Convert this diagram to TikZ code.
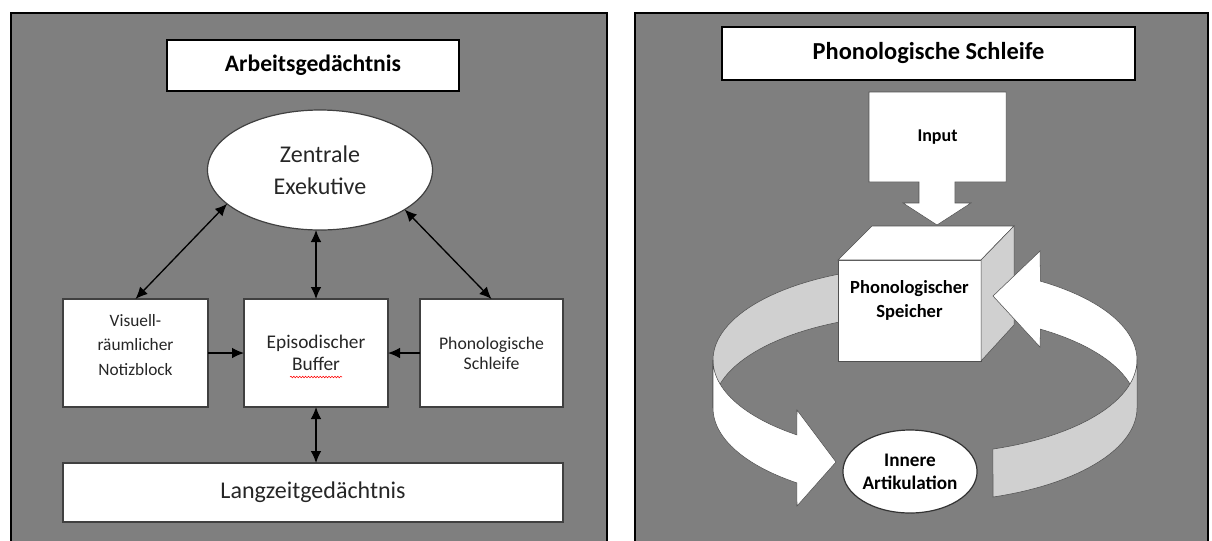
\documentclass[tikz,border=0pt]{standalone}
\usepackage{fontspec}
\setmainfont{Carlito}
\usetikzlibrary{arrows.meta,positioning,shapes.geometric,decorations.pathmorphing}
\tikzset{every picture/.style={
  >={Latex[length=9pt,width=8pt]}   % Filled arrow heads.
  }
}
\definecolor{panelgray}{RGB}{127,127,127}
\definecolor{ribbongray}{RGB}{208,208,208}
\definecolor{edgegray}{RGB}{80,80,80}

\begin{document}
\begin{tikzpicture}[
    x=0.75pt, y=-0.75pt,
    panel/.style={draw=black,line width=2.2pt,fill=panelgray},
    title/.style={
      draw=black,
      line width=0.9pt,
      fill=white,
      outer sep=0pt,
      font=\bfseries\fontsize{17.7}{20}\selectfont
    },
    box/.style={
      draw=black!75,
      line width=0.9pt,
      fill=white,
      outer sep=0pt,
      align=center,
      text=black!85
    },
    link/.style={<->,line width=1pt},
    band/.style={draw=edgegray,line width=0.4pt}
  ]
  \clip (0,0) rectangle (1212,540);

  % The two gray panels.
  \draw[panel] (11,13) rectangle (607,560);
  \draw[panel] (635,13) rectangle (1208,560);

  % Left panel: the working memory model.
  \node[title,minimum width=219pt,minimum height=38.25pt] (ag) at (313,65.5)
    {Arbeitsgedächtnis};
  \node[box,ellipse,minimum width=168.75pt,minimum height=90pt,
    font=\fontsize{18}{24}\selectfont] (ze) at (320,170) {Zentrale\\Exekutive};

  \node[box,minimum width=108pt,minimum height=81pt,
    font=\fontsize{14.5}{17}\selectfont] (eb) at (316,353) {Episodischer\\Buffer};
  \node[box,minimum width=108.75pt,minimum height=81pt,left=27pt of eb,
    label={[align=center,yshift=6pt,text=black!85,
      font=\fontsize{13}{18.4}\selectfont]center:Visuell-\\räumlicher\\Notizblock}]
    (vr) {};
  \node[box,minimum width=107.25pt,minimum height=81pt,right=24pt of eb,
    font=\fontsize{13.3}{15}\selectfont] (ps) {Phonologische\\Schleife};
  \node[box,minimum width=375pt,minimum height=44.25pt,
    font=\fontsize{18}{20}\selectfont] (lz) at (313,492.5) {Langzeitgedächtnis};

  % Spell check mark under the buffer label.
  \draw[red,line width=0.4pt,decorate,
    decoration={snake,amplitude=0.6pt,segment length=2.2pt}]
    ([shift={(-26,24)}]eb.center) -- ([shift={(26,24)}]eb.center);

  % Links between the parts.
  \draw[link] (vr.north) -- (ze.200);
  \draw[link] (eb.north) -- (eb.north |- ze.south);
  \draw[link] (ps.north) -- (ze.-25);
  \draw[->,line width=1pt] (vr) -- (eb);
  \draw[->,line width=1pt] (ps) -- (eb);
  \draw[link] (eb.south) -- (eb.south |- lz.north);

  % Right panel: the phonological loop.
  \node[title,minimum width=309.75pt,minimum height=39.75pt,
    font=\bfseries\fontsize{18.3}{21}\selectfont] (pl) at (928.5,53.5)
    {Phonologische Schleife};

  % Input arrow box.
  \filldraw[band,fill=white] (869,92) -- (1006,92) -- (1006,182) -- (955,182)
    -- (955,203) -- (971,203) -- (937,225) -- (903,203) -- (919,203)
    -- (919,182) -- (869,182) -- cycle;
  \node[font=\bfseries\fontsize{13.5}{15}\selectfont] (inp) at (937.5,137) {Input};

  % Back of the left ribbon.
  \filldraw[band,fill=ribbongray]
    plot[domain=110:180,samples=30] ({925+212*cos(\x)},{360-94*sin(\x)})
    -- plot[domain=180:110,samples=30] ({925+212*cos(\x)},{408-94*sin(\x)})
    -- cycle;

  % The store as a cube.
  \node[box,draw=edgegray,line width=0.6pt,minimum width=107.25pt,
    minimum height=75.75pt,
    label={[align=center,yshift=7.5pt,text=black,
      font=\bfseries\fontsize{13.9}{18}\selectfont]center:Phonologischer\\Speicher}]
    (sp) at (909.5,310.5) {};
  \filldraw[band,fill=white] (sp.north west) -- ++(34,-34)
    -- ([shift={(33,-34)}]sp.north east) -- (sp.north east) -- cycle;
  \filldraw[band,fill=ribbongray] (sp.north east) -- ++(33,-34) -- ++(0,99)
    -- (sp.south east) -- cycle;

  % Back of the right ribbon, with its head.
  \filldraw[band,fill=white]
    plot[domain=0:57,samples=30] ({925+212*cos(\x)},{360-94*sin(\x)})
    -- (1040,251) -- (993,296) -- (1040,347)
    -- plot[domain=57:0,samples=30] ({925+212*cos(\x)},{408-94*sin(\x)})
    -- cycle;

  % Front of the right ribbon.
  \filldraw[band,fill=ribbongray]
    plot[domain=-71.3:0,samples=30] ({925+212*cos(\x)},{360-94*sin(\x)})
    -- plot[domain=0:-71.3,samples=30] ({925+212*cos(\x)},{408-94*sin(\x)})
    -- cycle;

  % Front of the left ribbon, with its head.
  \filldraw[band,fill=white]
    plot[domain=180:232.8,samples=30] ({925+212*cos(\x)},{360-94*sin(\x)})
    -- (797,410) -- (836,462) -- (797,506)
    -- plot[domain=232.8:180,samples=30] ({925+212*cos(\x)},{408-94*sin(\x)})
    -- cycle;

  \node[box,ellipse,draw=black!80,inner sep=0pt,minimum width=100.5pt,
    minimum height=62.25pt,text=black,
    font=\bfseries\fontsize{14.4}{17}\selectfont] (ia) at (910,471.5)
    {Innere\\Artikulation};
\end{tikzpicture}
\end{document}
